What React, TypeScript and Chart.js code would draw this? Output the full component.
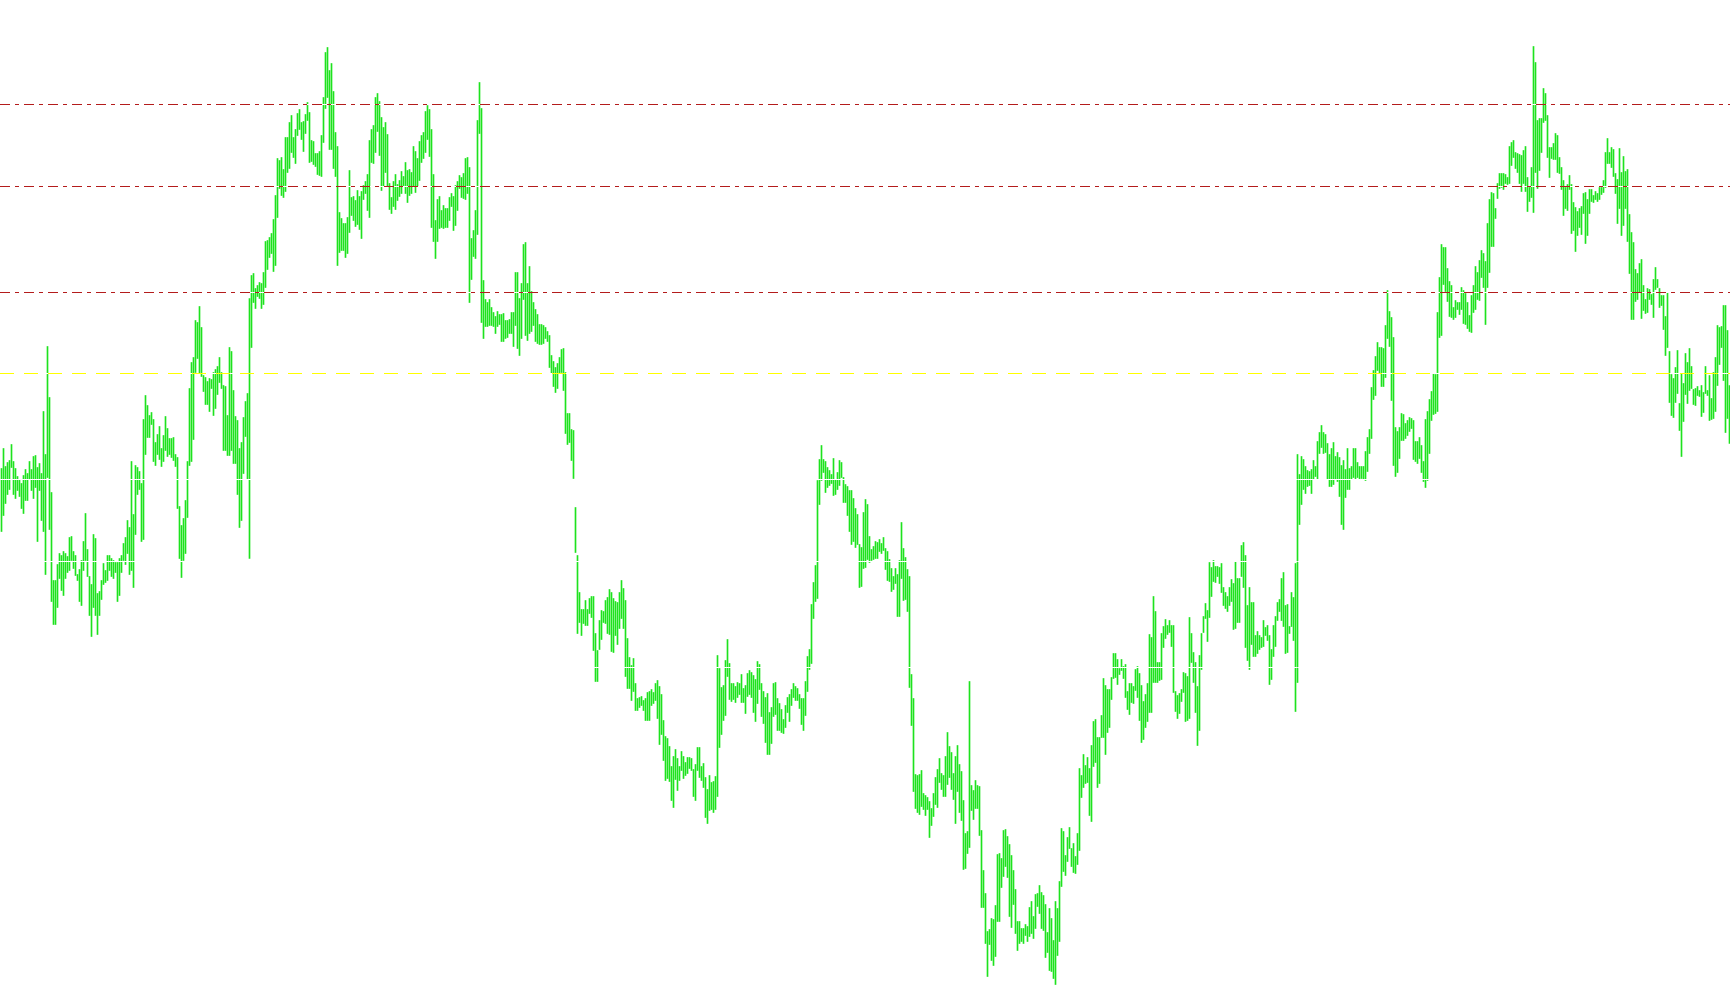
import React, { useEffect, useRef } from "react";
import { Chart, registerables } from "chart.js";

Chart.register(...registerables);

// Bar highs (price points), one per bar, left to right
const highs: number[] = [
  532,552,534,538,540,556,539,532,524,521,517,525,531,527,539,531,544,545,533,537,
  527,589,546,654,603,508,420,420,436,447,445,449,447,444,463,464,449,445,426,431,
  440,459,487,451,424,416,466,462,407,409,420,437,430,445,445,442,440,438,438,442,
  445,457,463,480,473,539,486,535,533,529,517,581,605,595,585,588,581,558,566,574,
  552,565,584,572,562,562,563,546,543,494,475,482,500,539,612,638,643,680,678,694,
  673,625,623,619,622,621,628,631,634,643,628,615,614,585,653,649,610,584,580,552,
  558,583,599,607,702,725,727,712,715,718,717,728,759,760,763,767,781,805,842,840,
  843,831,863,863,878,885,863,871,887,891,878,879,886,898,888,860,859,847,847,849,
  865,903,948,953,930,937,909,868,854,788,782,777,777,
  783,830,803,804,800,810,804,809,815,819,826,860,871,875,903,907,899,883,873,878,
  866,817,803,819,826,816,820,829,824,838,830,831,828,854,849,842,859,865,868,889,
  895,891,871,826,780,801,804,790,795,792,792,803,807,804,815,819,825,823,827,842,
  843,833,762,770,790,880,918,892,720,701,698,701,693,688,684,689,686,686,687,680,
  680,681,688,688,728,728,702,717,756,758,717,734,709,698,691,686,676,676,675,673,
  669,665,645,639,633,637,643,651,652,628,587,587,571,570,493,445,408,391,391,400,
  391,402,404,404,367,350,380,390,389,400,403,411,408,402,399,398,408,420,412,400,
  362,343,335,342,317,302,303,304,300,302,308,309,311,308,317,320,314,306,280,264,
  262,254,234,244,251,242,234,249,244,238,243,243,242,
  231,236,253,253,234,237,223,211,225,218,219,224,345,332,313,315,340,361,337,317,
  317,314,318,317,326,312,315,327,330,328,325,321,339,336,317,309,303,307,288,293,
  317,318,302,297,291,281,295,303,306,311,317,314,312,306,302,302,319,344,351,396,
  418,435,520,541,555,541,539,533,530,526,542,521,528,540,538,523,516,514,510,510,
  502,492,486,456,453,488,501,496,464,451,454,459,458,461,457,463,452,449,441,432,
  424,432,426,440,478,452,443,431,424,326,302,226,225,226,230,207,205,203,199,192,
  207,223,231,242,227,225,244,268,254,248,227,244,255,236,229,200,167,169,319,215,
  210,220,215,214,170,130,107,69,71,82,81,95,146,147,142,170,171,164,156,145,
  130,111,79,79,72,72,76,74,93,99,84,106,107,
  115,108,105,96,68,92,82,60,99,92,119,172,169,145,163,173,152,157,144,167,
  232,225,246,235,243,232,255,279,281,263,263,285,322,315,311,311,323,347,347,341,
  332,341,334,336,309,317,317,314,331,334,327,315,299,306,317,366,363,404,389,338,
  338,367,374,381,375,380,375,375,309,305,307,311,328,327,324,383,367,348,338,314,
  345,367,384,397,390,438,433,440,434,434,433,437,413,408,404,413,421,417,439,422,
  422,455,458,445,395,413,398,398,365,369,365,363,380,373,375,365,351,375,384,398,
  401,422,428,395,396,374,408,403,437,546,526,544,541,534,530,529,531,540,534,559,
  568,575,568,566,557,546,552,558,544,548,543,535,540,531,552,532,534,552,552,538,
  534,534,534,549,563,571,613,630,644,658,653,653,652,
  675,710,689,683,663,573,569,573,587,586,577,580,583,582,580,559,559,563,555,539,
  581,589,601,609,627,626,688,723,756,753,753,732,719,715,693,700,698,698,713,710,
  707,698,685,705,715,734,728,740,750,747,739,777,801,808,807,792,817,827,827,827,
  826,823,854,858,860,848,847,846,845,850,854,823,813,833,954,938,880,882,882,912,
  907,885,853,853,857,867,865,843,833,820,813,816,825,816,798,793,789,792,794,807,
  808,801,811,811,805,809,807,813,813,820,848,862,848,853,851,827,821,852,828,844,
  829,831,786,768,758,731,727,737,741,715,701,712,711,706,721,733,721,712,705,705,
  684,708,649,626,622,633,650,597,627,617,647,638,652,634,611,612,614,610,615,608,
  634,610,625,602,628,643,675,673,674,695,695,670,615,
];

// Bar lows (price points), one per bar, left to right
const lows: number[] = [
  469,485,497,506,511,533,506,502,510,504,492,487,500,500,521,510,502,513,459,510,
  480,469,426,523,471,399,376,376,393,422,410,405,422,428,430,440,432,425,420,399,
  395,430,440,424,385,364,393,385,366,385,401,416,418,420,430,424,422,428,399,405,
  428,440,436,447,426,430,413,466,506,511,459,461,546,563,563,576,539,535,546,541,
  534,539,550,544,546,543,540,534,492,442,423,440,447,483,535,539,561,628,642,627,
  624,609,596,596,589,612,585,592,606,618,612,550,550,545,545,550,537,537,506,473,
  480,527,564,521,442,653,698,692,704,702,692,696,713,731,743,747,729,735,783,812,
  805,803,809,828,832,848,843,837,865,871,861,849,867,880,838,839,836,834,826,825,
  824,858,892,903,851,851,832,824,735,748,750,750,743,
  747,768,785,780,774,776,771,762,801,807,790,783,838,837,848,869,845,810,814,828,
  814,791,787,794,791,800,804,807,814,807,798,805,807,814,808,814,820,838,842,848,
  861,844,773,759,742,759,772,773,772,773,773,780,794,770,775,790,812,803,802,801,
  807,698,721,744,742,766,867,678,662,674,674,675,675,674,667,674,676,659,659,662,
  663,667,667,654,675,652,645,662,701,665,660,667,669,675,659,657,656,656,657,662,
  659,633,627,614,608,612,627,628,610,567,556,558,540,522,448,367,378,365,377,375,
  375,387,383,350,319,319,351,361,378,377,367,366,349,348,365,356,372,382,372,324,
  312,312,300,309,290,290,293,295,290,280,280,280,295,297,300,282,256,266,240,220,
  222,219,200,193,221,210,220,230,222,225,227,232,230,
  204,200,230,223,220,213,183,177,190,191,188,191,204,253,266,280,285,324,301,299,
  301,298,303,306,298,298,287,304,306,303,288,279,297,311,284,277,258,246,246,257,
  284,286,270,270,268,267,273,288,279,295,303,300,300,292,276,270,285,309,331,337,
  382,399,402,496,520,528,508,513,515,517,505,506,511,515,523,498,498,485,469,456,
  459,453,456,413,414,432,433,441,438,440,441,442,442,449,447,450,431,420,419,409,
  411,417,384,384,422,400,401,389,313,275,209,192,188,186,194,191,185,191,163,175,
  184,196,193,218,211,204,204,216,223,211,201,177,209,188,180,131,132,147,153,190,
  181,192,192,165,93,93,57,24,56,40,35,44,79,79,113,124,134,123,84,73,
  96,67,50,57,59,57,65,59,64,67,62,72,94,
  87,72,70,43,48,30,29,22,16,45,59,114,129,125,139,152,134,128,127,136,
  150,203,213,217,218,185,179,234,238,213,217,263,263,246,268,273,301,322,323,316,
  326,330,322,303,291,286,298,297,310,303,280,258,261,273,279,288,288,318,318,318,
  320,321,353,362,366,368,354,308,289,282,287,299,308,279,280,282,338,318,288,255,
  270,331,368,382,359,383,404,419,418,424,417,408,395,392,389,395,399,371,372,378,
  378,424,413,353,340,331,356,344,344,347,351,353,354,365,360,316,321,344,354,380,
  389,380,374,347,348,367,374,360,289,318,476,496,511,507,514,515,507,521,524,521,
  547,553,547,548,521,514,514,516,521,519,504,476,471,503,511,511,521,523,521,523,
  521,522,521,520,529,547,562,601,605,630,627,614,614,
  623,662,654,600,535,524,528,542,560,560,562,565,569,572,541,539,537,542,528,519,
  513,520,547,580,586,587,589,663,665,716,709,699,684,683,681,683,691,686,691,677,
  676,672,669,668,688,691,701,700,723,713,676,713,728,754,754,782,802,812,813,811,
  817,816,817,835,843,832,828,817,809,817,809,789,799,803,788,828,812,830,848,878,
  880,843,823,842,841,841,828,827,811,785,792,790,811,767,770,749,765,773,766,787,
  757,765,787,799,798,801,799,801,806,808,813,837,837,833,824,807,777,792,765,775,
  792,759,727,681,681,699,701,708,682,690,687,688,701,696,683,711,713,693,695,671,
  645,653,598,585,583,598,607,570,544,579,606,597,610,612,596,595,605,604,584,588,
  607,605,580,581,582,589,615,636,653,620,568,582,557,
];

// Horizontal levels (price points)
const resistanceLevels: number[] = [896, 814, 708];
const pivotLevels: number[] = [627];
const supportLevels: number[] = [521, 439, 333];

const priceMin = -4.5;
const priceMax = 1000.5;

const barColor = "#1ee21e";
const resistanceColor = "#b41c1c";
const pivotColor = "#ffff00";

export default function App() {
  const canvasRef = useRef<HTMLCanvasElement | null>(null);

  useEffect(() => {
    document.body.style.margin = "0";
    document.body.style.background = "#ffffff";
    const canvas = canvasRef.current;
    if (!canvas) return;

    const n = highs.length;
    const xMin = -0.75;
    const xMax = n - 0.75;

    const levelLine = (v: number, color: string, dash: number[], order: number) => ({
      type: "line" as const,
      data: [
        { x: xMin, y: v },
        { x: xMax, y: v },
      ],
      borderColor: color,
      borderWidth: 1,
      borderDash: dash,
      pointRadius: 0,
      pointHoverRadius: 0,
      fill: false,
      tension: 0,
      order,
    });

    const datasets: any[] = [
      {
        type: "bar",
        data: highs.map((h, i) => ({ x: i, y: [lows[i], h] })),
        backgroundColor: barColor,
        borderWidth: 0,
        barThickness: 1,
        grouped: false,
        order: 5,
      },
      ...supportLevels.map((v) => levelLine(v, "#ffffff", [], 3)),
      ...resistanceLevels.map((v) => levelLine(v, "#ffffff", [], 3)),
      ...pivotLevels.map((v) => levelLine(v, "#ffffff", [], 3)),
      ...resistanceLevels.map((v) => levelLine(v, resistanceColor, [10, 5, 4, 5], 1)),
      ...pivotLevels.map((v) => levelLine(v, pivotColor, [14, 10], 1)),
    ];

    const chart = new Chart(canvas, {
      type: "bar",
      data: { datasets },
      options: {
        animation: false,
        responsive: false,
        devicePixelRatio: 1,
        events: [],
        layout: { padding: 0 },
        plugins: { legend: { display: false }, tooltip: { enabled: false } },
        scales: {
          x: {
            type: "linear",
            display: false,
            offset: false,
            bounds: "data",
            min: xMin,
            max: xMax,
            grid: { display: false },
          },
          y: {
            type: "linear",
            display: false,
            bounds: "data",
            min: priceMin,
            max: priceMax,
            grid: { display: false },
          },
        },
      },
    } as any);

    return () => chart.destroy();
  }, []);

  return (
    <canvas
      ref={canvasRef}
      width={1730}
      height={1005}
      style={{ display: "block", width: 1730, height: 1005 }}
    />
  );
}
